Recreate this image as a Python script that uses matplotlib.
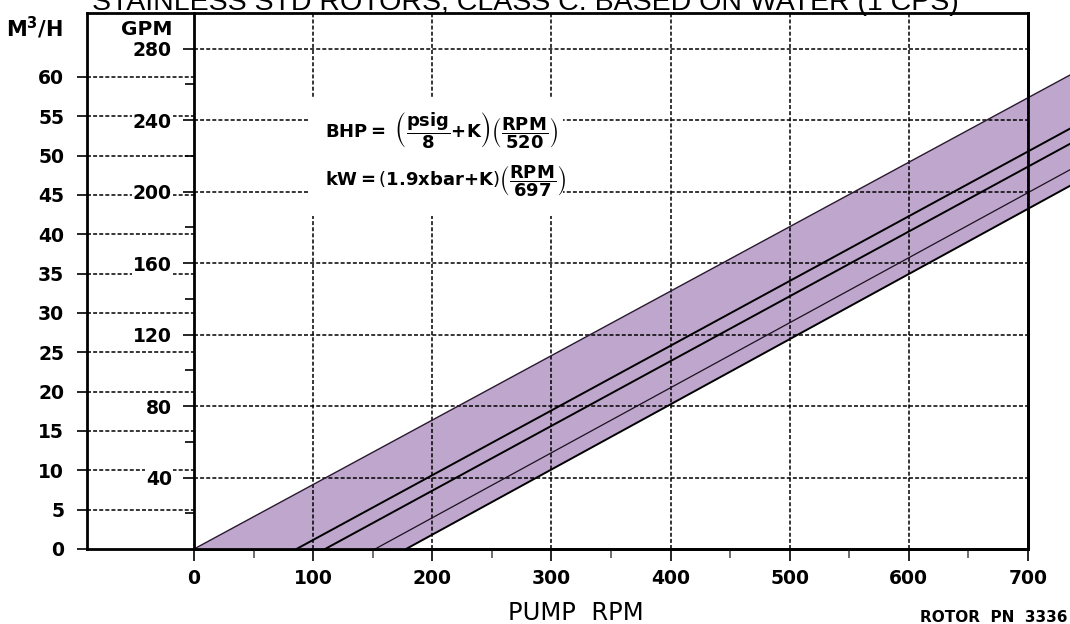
"""
Pump performance chart: flow (GPM and M3/H) versus pump RPM
for stainless standard rotors, class C, based on water (1 CPS).
"""
import numpy as np
import matplotlib
matplotlib.use("Agg")
import matplotlib.pyplot as plt
from matplotlib.patches import Rectangle
from matplotlib.ticker import MultipleLocator, FixedLocator

plt.rcParams['font.family'] = ['DejaVu Sans']
plt.rcParams['mathtext.fontset'] = 'dejavusans'

# --- data ---
GPM_PER_M3H = 4.403

rpm_ticks = [0, 100, 200, 300, 400, 500, 600, 700]
gpm_ticks = [40, 80, 120, 160, 200, 240, 280]
m3h_ticks = [0, 5, 10, 15, 20, 25, 30, 35, 40, 45, 50, 55, 60]

# straight flow lines, (start rpm at zero flow) -> (rpm, gpm) at right edge
upper_rpm = [0, 740]
upper_gpm = [0, 267]
line2_rpm = [86, 740]
line2_gpm = [0, 237]
line3_rpm = [110, 740]
line3_gpm = [0, 228.5]
line4_rpm = [152, 740]
line4_gpm = [0, 214]
lower_rpm = [178, 740]
lower_gpm = [0, 205]

TITLE = "STAINLESS STD ROTORS, CLASS C. BASED ON WATER (1 CPS)"
BAND_COLOR = "#bea6cc"

W, H = 1070, 624
fig = plt.figure(figsize=(W / 100, H / 100), dpi=100)


def px(x, y):
    """Pixel position (from top-left) to figure fraction."""
    return x / W, 1 - y / H


bottom = (H - 549) / H
height = (549 - 13) / H
DASH = (0, (2.6, 1.4))

# --- outer frame carrying the M3/H scale ---
ax_out = fig.add_axes([87 / W, bottom, (1028 - 87) / W, height])
ax_out.set_xlim(0, 1)
ax_out.set_ylim(0, 300 / GPM_PER_M3H)
ax_out.set_xticks([])
ax_out.yaxis.set_major_locator(FixedLocator(m3h_ticks))
ax_out.tick_params(axis='y', direction='out', length=7.5, width=1.2,
                   labelsize=13.5, pad=9)
for lbl in ax_out.get_yticklabels():
    lbl.set_fontweight('bold')
for sp in ax_out.spines.values():
    sp.set_linewidth(2)
inner_frac = (194 - 87) / (1028 - 87)
for v in m3h_ticks[1:]:
    ax_out.axhline(v, xmin=0, xmax=inner_frac, color='black', lw=1.1,
                   ls=DASH, zorder=1)

# --- main chart: GPM vs RPM ---
ax = fig.add_axes([194 / W, bottom, (1028 - 194) / W, height])
ax.set_facecolor('none')
ax.set_xlim(0, 700)
ax.set_ylim(0, 300)
ax.spines['top'].set_visible(False)
for sp in ('left', 'right', 'bottom'):
    ax.spines[sp].set_linewidth(2)

ax.xaxis.set_major_locator(FixedLocator(rpm_ticks))
ax.xaxis.set_minor_locator(MultipleLocator(50))
ax.yaxis.set_major_locator(FixedLocator(gpm_ticks))
ax.yaxis.set_minor_locator(FixedLocator([g - 20 for g in gpm_ticks]))
ax.tick_params(axis='x', which='major', direction='out', length=8.5,
               width=1.2, labelsize=13.5, pad=6)
ax.tick_params(axis='x', which='minor', direction='out', length=6.5,
               width=1.2, color='#555555')
ax.tick_params(axis='y', which='major', direction='out', length=8,
               width=1.2, labelsize=13.5, pad=8)
ax.tick_params(axis='y', which='minor', direction='out', length=6.5,
               width=1.2)
for lbl in ax.get_xticklabels():
    lbl.set_fontweight('bold')
for lbl in ax.get_yticklabels():
    lbl.set_fontweight('bold')
    lbl.set_bbox(dict(facecolor='white', edgecolor='none', pad=0.5))

ax.grid(True, which='major', color='black', lw=1.1, ls=DASH)

# band between the upper and lower limit lines
band_x = np.concatenate([upper_rpm, lower_rpm[::-1]])
band_y = np.concatenate([upper_gpm, lower_gpm[::-1]])
ax.fill(band_x, band_y, color=BAND_COLOR, lw=0, zorder=1, clip_on=False)

ax.plot(upper_rpm, upper_gpm, color='#2a1a30', lw=1.0, clip_on=False, zorder=2)
ax.plot(line2_rpm, line2_gpm, color='black', lw=1.4, clip_on=False, zorder=2)
ax.plot(line3_rpm, line3_gpm, color='black', lw=1.4, clip_on=False, zorder=2)
ax.plot(line4_rpm, line4_gpm, color='#1a1020', lw=0.9, clip_on=False, zorder=2)
ax.plot(lower_rpm, lower_gpm, color='black', lw=1.4, clip_on=False, zorder=2)

# white panel behind the power formulas (breaks the grid)
ax.add_patch(Rectangle((97.5, 186.5), 212, 66, facecolor='white',
                       edgecolor='none', zorder=1.8))

# --- texts ---
fig.text(*px(525, 10), TITLE, ha='center', va='baseline', fontsize=20.5,
         family=['Liberation Sans', 'DejaVu Sans'])
fig.text(*px(63, 37), r'M$^{\mathbf{3}}$/H', ha='right', va='baseline',
         fontsize=15, fontweight='bold')
fig.text(*px(172, 35), 'GPM', ha='right', va='baseline', fontsize=14.5,
         fontweight='bold')
fig.text(*px(576, 620), 'PUMP  RPM', ha='center', va='baseline', fontsize=17.5)
fig.text(*px(1067, 622), 'ROTOR  PN  3336', ha='right', va='baseline',
         fontsize=11, fontweight='bold')

bhp = (r'$\mathbf{BHP=}\ \left(\dfrac{\mathbf{psig}}{\mathbf{8}}\mathbf{+K}\right)'
       r'\left(\dfrac{\mathbf{RPM}}{\mathbf{520}}\right)$')
kw = (r'$\mathbf{kW=}\left(\mathbf{1.9xbar{+}K}\right)'
      r'\left(\dfrac{\mathbf{RPM}}{\mathbf{697}}\right)$')
fig.text(*px(325, 131), bhp, ha='left', va='center', fontsize=13, zorder=5)
fig.text(*px(325, 181), kw, ha='left', va='center', fontsize=13, zorder=5)

fig.savefig('out.png', dpi=100)
